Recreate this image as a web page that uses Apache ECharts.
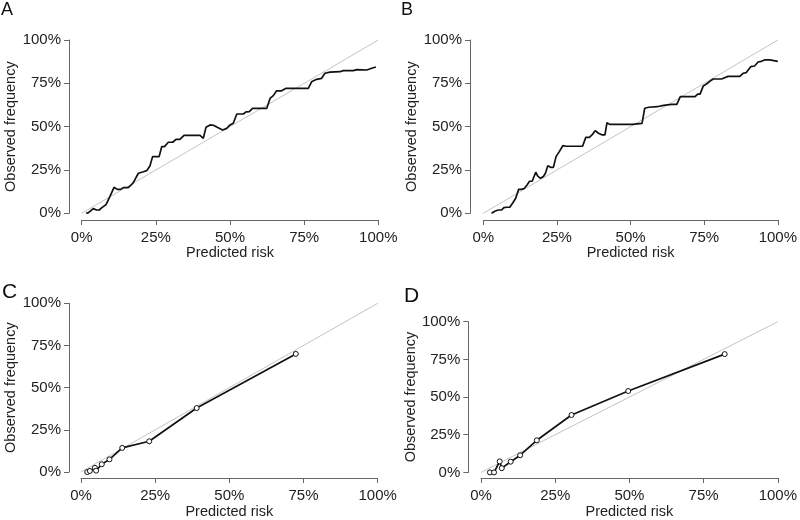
<!DOCTYPE html>
<html>
<head>
<meta charset="utf-8">
<script src="https://cdn.jsdelivr.net/npm/echarts@6/dist/echarts.min.js"></script>
<style>
  html, body { margin: 0; padding: 0; background: #fff; }
  #chart { width: 800px; height: 520px; }
</style>
</head>
<body>
<div id="chart"></div>
<script>
// tick values shared by all four panels (percent)
const ticks = [0, 25, 50, 75, 100]
const panelLabels = ['A', 'B', 'C', 'D']

// panel A – smoothed calibration curve
const predA = [1.5, 2.3, 3.9, 5.0, 5.9, 6.7, 8.2, 9.5, 10.9, 12.0, 13.1, 14.0, 15.7, 16.6, 17.4, 18.0,
  19.1, 20.8, 21.9, 23.0, 23.9, 25.3, 26.1, 27.0, 27.9, 29.2, 30.7, 31.8, 33.1, 34.5, 39.9, 41.0,
  41.9, 43.3, 44.4, 45.7, 47.5, 48.9, 50.0, 51.1, 52.3, 54.5, 55.4, 56.5, 57.6, 62.4, 63.5, 64.6,
  65.7, 67.4, 68.9, 76.4, 77.5, 79.2, 80.9, 82.0, 83.7, 87.1, 88.2, 91.6, 92.7, 96.1, 97.8, 99.2]
const obsA = [0, 0.4, 2.7, 1.9, 1.9, 3.1, 5.0, 9.6, 15.0, 13.8, 13.8, 14.8, 14.8, 16.2, 17.7, 17.7,
  23.1, 24.0, 24.6, 27.3, 32.7, 32.7, 32.7, 38.5, 38.5, 41.0, 41.0, 42.7, 42.7, 45.0, 45.0, 43.3,
  49.6, 51.0, 50.8, 49.6, 48.1, 49.0, 51.0, 52.0, 57.3, 57.3, 58.5, 58.7, 60.6, 60.6, 66.3, 67.9,
  70.7, 70.7, 72.1, 72.1, 75.9, 77.3, 77.9, 80.8, 81.5, 81.7, 82.3, 82.3, 82.9, 82.7, 83.7, 84.4]

// panel B
const predB = [2.8, 3.9, 5.1, 6.2, 7.0, 7.9, 9.0, 10.1, 11.0, 12.0, 12.9, 13.8, 14.8, 15.7, 16.6, 17.8,
  18.5, 19.4, 20.4, 21.1, 21.9, 23.0, 23.8, 24.7, 25.8, 27.0, 28.1, 33.7, 34.8, 36.0, 36.9, 38.0,
  39.1, 40.4, 41.3, 42.0, 42.9, 50.6, 51.1, 53.9, 54.8, 56.2, 59.0, 61.2, 64.0, 65.7, 66.9, 71.9,
  72.8, 73.6, 74.7, 75.8, 77.0, 78.1, 80.9, 83.1, 87.1, 88.2, 89.3, 90.8, 92.1, 93.3, 94.4, 95.5,
  97.2, 100]
const obsB = [0, 1.2, 1.9, 1.9, 3.3, 3.5, 3.5, 6.2, 8.7, 13.8, 13.8, 14.2, 16.2, 18.5, 18.5, 23.7,
  21.5, 20.2, 21.2, 23.1, 27.5, 26.5, 26.5, 32.7, 35.6, 39.0, 38.7, 38.7, 43.8, 43.8, 45.2, 47.7,
  46.2, 45.2, 45.2, 52.3, 51.3, 51.3, 51.9, 51.9, 60.6, 61.2, 61.5, 62.3, 62.9, 62.9, 67.3, 67.3,
  68.8, 68.8, 73.5, 74.6, 76.3, 77.5, 77.5, 79.0, 79.0, 80.8, 81.2, 84.6, 85.0, 87.3, 87.7, 88.5,
  88.5, 87.7]

// panel C – grouped points
const predC = [2.1, 3.0, 4.7, 5.1, 7.0, 9.6, 13.9, 23.0, 39.0, 72.4]
const obsC = [0, 0.6, 2.5, 0.8, 4.6, 7.5, 14.3, 18.2, 37.9, 70.0]

// panel D – grouped points
const predD = [3.0, 4.4, 6.3, 7.0, 10.0, 13.2, 18.8, 30.5, 49.6, 82.1]
const obsD = [0, 0, 7.3, 2.8, 7.1, 11.4, 21.3, 38.1, 54.0, 78.5]

const chart = echarts.init(document.getElementById('chart'))

const font = 'Liberation Sans, Arial, Helvetica, sans-serif'
const textColor = '#222'
const axisColor = '#666'

const grids = [
  { left: 81.7, top: 40, width: 296.6, height: 173.3 },
  { left: 483.3, top: 40, width: 296.7, height: 173.3 },
  { left: 81, top: 303.3, width: 296.7, height: 172.4 },
  { left: 481, top: 321.7, width: 301.3, height: 155 }
]
const xOffsets = [6.7, 6.7, 6, 5.6]
const yOffsets = [12.7, 13.3, 12, 12.7]
const xNameGaps = [21, 21, 26, 26]
const yNameGaps = [48, 46, 48, 45]
const letterPos = [
  { left: 1, top: 1, size: 18 },
  { left: 401, top: 1, size: 18 },
  { left: 2, top: 282, size: 21 },
  { left: 404, top: 286, size: 21 }
]

function pairs(xs, ys) {
  return xs.map((x, i) => [x, ys[i]])
}

const curves = [
  pairs(predA, obsA),
  pairs(predB, obsB),
  pairs(predC, obsC),
  pairs(predD, obsD)
]

function axisCommon(name, gap, offset) {
  return {
    type: 'value',
    min: ticks[0],
    max: ticks[ticks.length - 1],
    interval: 25,
    offset: offset,
    name: name,
    nameLocation: 'middle',
    nameGap: gap,
    nameTextStyle: { fontFamily: font, fontSize: 14.5, color: textColor },
    axisLine: { show: true, onZero: false, lineStyle: { color: axisColor, width: 1 } },
    axisTick: { show: true, length: 5, lineStyle: { color: axisColor, width: 1 } },
    splitLine: { show: false },
    axisLabel: {
      fontFamily: font, fontSize: 15, color: textColor,
      formatter: '{value}%'
    }
  }
}

const xAxis = []
const yAxis = []
const series = []
const title = []

for (let i = 0; i < 4; i++) {
  let xa = axisCommon('Predicted risk', xNameGaps[i], xOffsets[i])
  xa.gridIndex = i
  xa.position = 'bottom'
  xa.axisLabel.margin = 10
  xAxis.push(xa)

  let ya = axisCommon('Observed frequency', yNameGaps[i], yOffsets[i])
  ya.gridIndex = i
  ya.position = 'left'
  ya.axisLabel.margin = 8
  yAxis.push(ya)

  title.push({
    text: panelLabels[i],
    left: letterPos[i].left,
    top: letterPos[i].top,
    padding: 0,
    textStyle: { fontFamily: font, fontSize: letterPos[i].size, fontWeight: 'normal', color: '#111' }
  })

  // reference diagonal
  series.push({
    type: 'line',
    xAxisIndex: i,
    yAxisIndex: i,
    data: [[0, 0], [100, 100]],
    symbol: 'none',
    silent: true,
    clip: false,
    lineStyle: { color: '#c4c4c4', width: 1 }
  })

  const withPoints = i >= 2
  series.push({
    type: 'line',
    xAxisIndex: i,
    yAxisIndex: i,
    data: curves[i],
    clip: false,
    symbol: withPoints ? 'circle' : 'none',
    symbolSize: 5,
    showSymbol: withPoints,
    itemStyle: { color: '#fff', borderColor: '#111', borderWidth: 1 },
    lineStyle: { color: '#111', width: 1.7 }
  })
}

chart.setOption({
  animation: false,
  backgroundColor: '#fff',
  title: title,
  grid: grids,
  xAxis: xAxis,
  yAxis: yAxis,
  series: series
})
</script>
</body>
</html>
